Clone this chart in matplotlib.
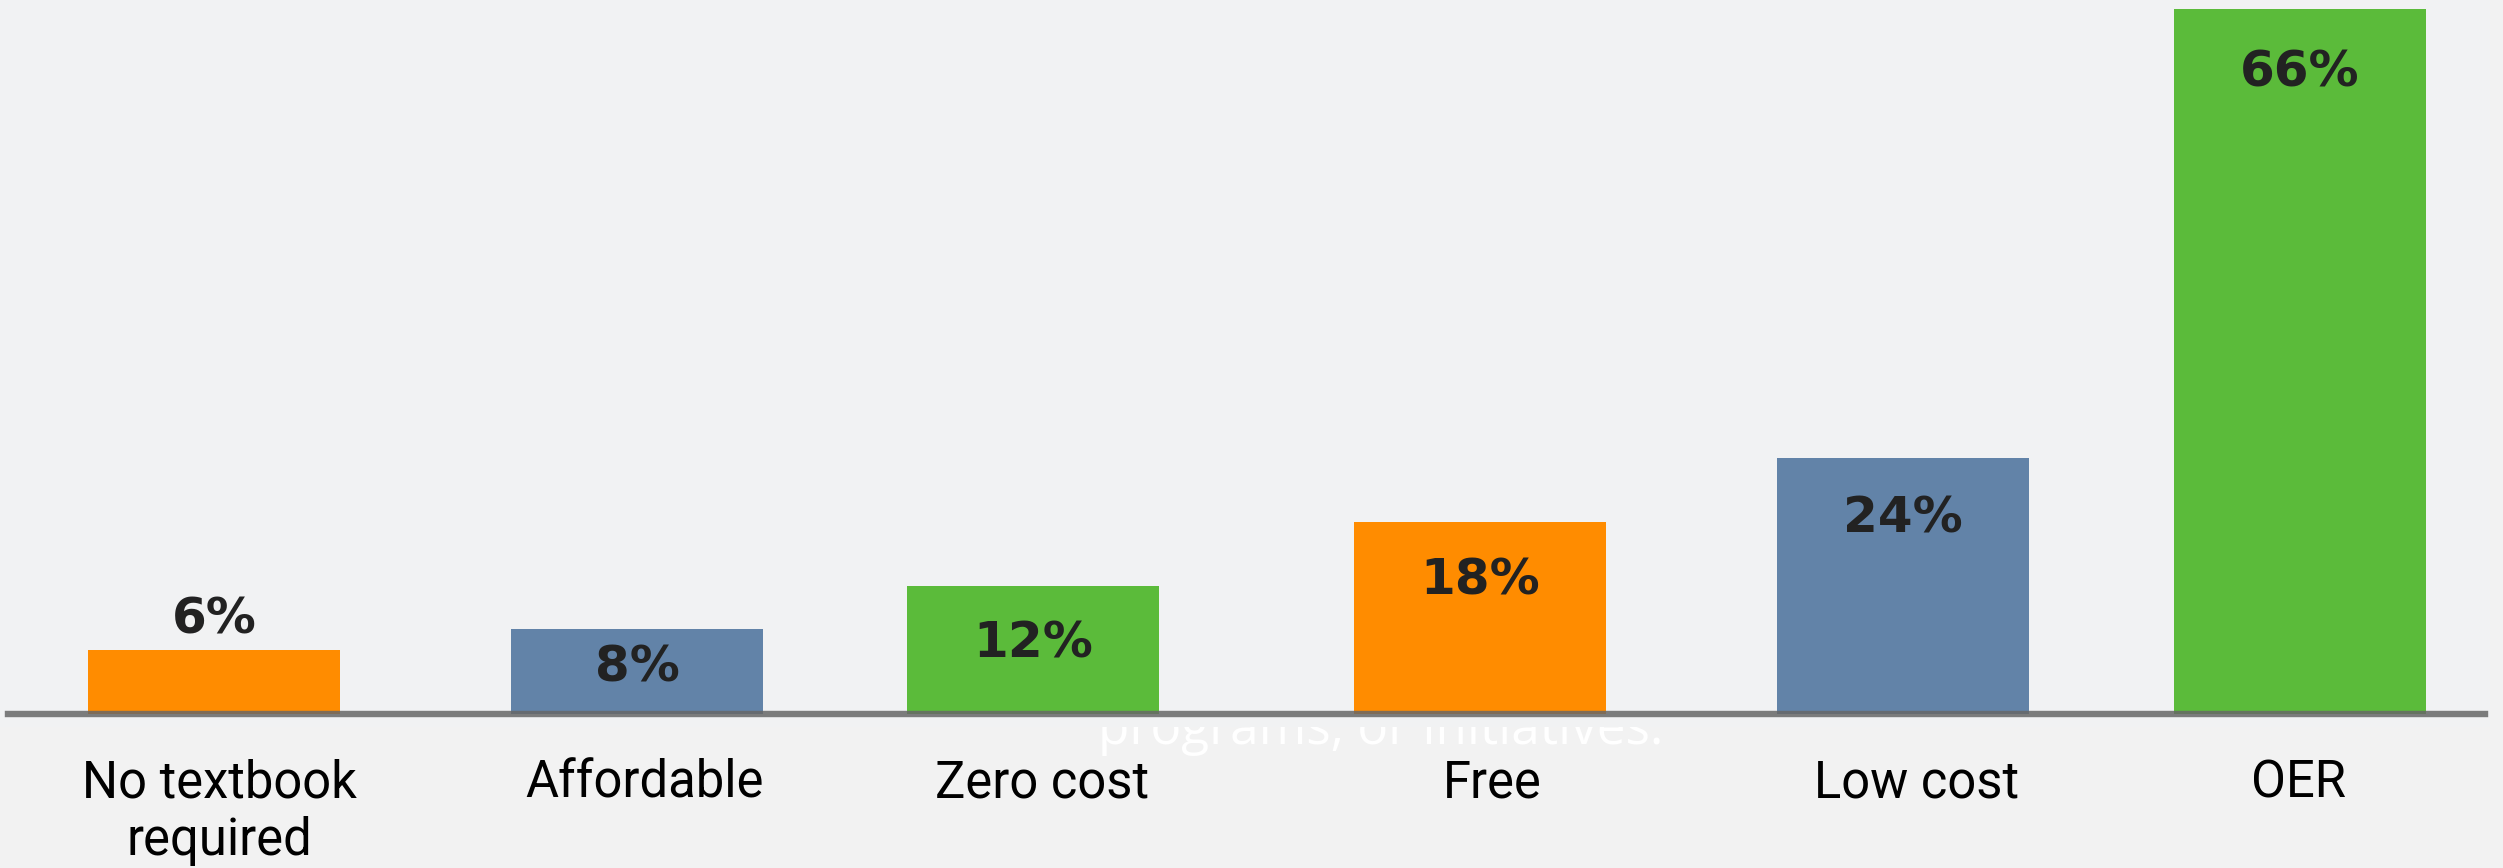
import matplotlib
matplotlib.use("Agg")
import matplotlib.pyplot as plt
import matplotlib.transforms as mtransforms

# ---- data ----
categories = ["No textbook\nrequired", "Affordable", "Zero cost", "Free", "Low cost", "OER"]
values = [6, 8, 12, 18, 24, 66]
value_labels = ["6%", "8%", "12%", "18%", "24%", "66%"]

# ---- layout / style ----
W, H = 2503, 868
DPI = 100
x_pos = [214, 637, 1033, 1480, 1903, 2300]      # bar centres (axis units = pixels)
label_x = [219, 645, 1042, 1492, 1917, 2298]    # category label centres
bar_width = 252
colors = ["#FF8C00", "#6283A8", "#5BBB3A", "#FF8C00", "#6283A8", "#5BBB3A"]
label_offsets = [16, -53, -72, -73, -75, -77]   # px from bar top to label baseline

fig = plt.figure(figsize=(W / DPI, H / DPI), dpi=DPI)
fig.patch.set_facecolor("#F2F2F2")

ax_bottom_px = 727
ax = fig.add_axes([0, 1 - ax_bottom_px / H, 2490 / W, ax_bottom_px / H])
ax.set_facecolor("#F1F2F3")
ax.set_xlim(0, 2490)
px_per_unit = 10.68
base_px = 13  # baseline above axes bottom
ax.set_ylim(-base_px / px_per_unit, (ax_bottom_px - base_px) / px_per_unit)
for s in ax.spines.values():
    s.set_visible(False)
ax.set_xticks([])
ax.set_yticks([])

ax.bar(x_pos, values, width=bar_width, color=colors, zorder=2, linewidth=0)
ax.axhline(0, xmin=8 / 2490, xmax=2485 / 2490, color="#676767", linewidth=4.6, alpha=0.85, zorder=3)

for xp, v, lab, off in zip(x_pos, values, value_labels, label_offsets):
    ax.annotate(lab, (xp, v), xytext=(0, off * 72 / DPI), textcoords="offset points",
                ha="center", va="baseline", fontsize=36, fontweight="bold",
                family="DejaVu Sans", color="#222222", zorder=4)

# category labels below chart
blend = mtransforms.blended_transform_factory(ax.transData, fig.transFigure)
for lx, cat in zip(label_x, categories):
    lines = cat.split("\n")
    for i, line in enumerate(lines):
        ax.text(lx, 1 - (798 + 57 * i) / H, line, transform=blend, ha="center",
                va="baseline", fontsize=36.5, family="Roboto", color="#000000",
                clip_on=False)

# faint white overlay text partly hidden behind chart image
fig.text(1381 / W, 1 - 744 / H, "programs, or initiatives.", ha="center",
         va="baseline", fontsize=37, family="Open Sans", color="white", zorder=-1)

fig.savefig("out.png", dpi=DPI, facecolor=fig.get_facecolor())
